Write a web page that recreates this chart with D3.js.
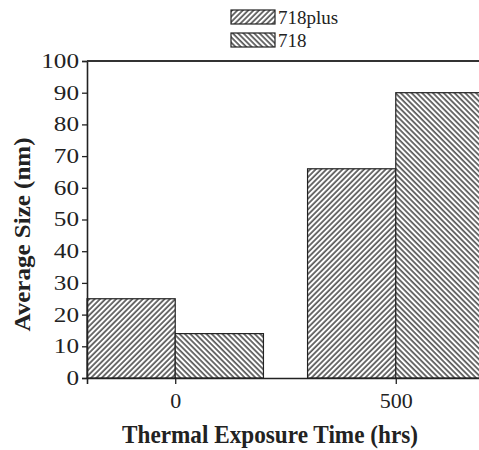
<!DOCTYPE html>
<html>
<head>
<meta charset="utf-8">
<script src="https://cdn.jsdelivr.net/npm/d3@7"></script>
<style>
  body { margin: 0; background: #fff; }
  svg text { font-family: "Liberation Serif", "Times New Roman", serif; fill: #222; }
</style>
</head>
<body>
<div id="chart"></div>
<script>
// data
var times = [0, 500];
var alloy718plus = [25, 66];
var alloy718 = [14, 90];
var seriesNames = ["718plus", "718"];
var yTicks = [0, 10, 20, 30, 40, 50, 60, 70, 80, 90, 100];

var width = 479;
var height = 450;

var margin = {
    top: 61,
    bottom: 72,
    left: 87,
    right: -5
};

var svg = d3.select("#chart")
    .append("svg")
    .attr("width", width)
    .attr("height", height);

var defs = svg.append("defs");

// hatch patterns, "/" for 718plus and "\" for 718
function hatch(id, angle) {
  var p = defs.append("pattern")
      .attr("id", id)
      .attr("patternUnits", "userSpaceOnUse")
      .attr("width", 3.8)
      .attr("height", 10)
      .attr("patternTransform", "rotate(" + angle + ")");
  p.append("rect").attr("width", 3.8).attr("height", 10).attr("fill", "#fff");
  p.append("line")
      .attr("x1", 1).attr("y1", 0)
      .attr("x2", 1).attr("y2", 10)
      .attr("stroke", "#222")
      .attr("stroke-width", 1.3);
}
hatch("hatchPlus", 45);
hatch("hatch718", -45);

var fills = ["url(#hatchPlus)", "url(#hatch718)"];

var x = d3.scaleLinear()
    .domain([-200, 700])
    .range([margin.left, width - margin.right]);

var y = d3.scaleLinear()
    .domain([0, 100])
    .range([height - margin.bottom, margin.top]);

var barW = 200;

// bars sit side by side around each time value
var bars = [];
times.forEach(function(t, i) {
  bars.push({x0: t - barW, x1: t, value: alloy718plus[i], s: 0});
  bars.push({x0: t, x1: t + barW, value: alloy718[i], s: 1});
});

svg.append("g")
    .selectAll("rect")
    .data(bars)
    .enter()
    .append("rect")
    .attr("x", function(d) { return x(d.x0); })
    .attr("y", function(d) { return y(d.value); })
    .attr("width", function(d) { return x(d.x1) - x(d.x0); })
    .attr("height", function(d) { return y(0) - y(d.value); })
    .attr("fill", function(d) { return fills[d.s]; })
    .attr("stroke", "#222")
    .attr("stroke-width", 1.2);

// y axis
var yAxis = svg.append("g")
    .attr("transform", "translate(" + margin.left + ",0)")
    .call(d3.axisLeft(y).tickValues(yTicks).tickSize(5).tickPadding(3));
yAxis.attr("font-family", "Liberation Serif");
yAxis.selectAll("text")
    .attr("font-size", "20px")
    .attr("fill", "#222")
    .attr("textLength", function(d) { return String(d).length * 12.6; })
    .attr("lengthAdjust", "spacingAndGlyphs");

// x axis
var xAxis = svg.append("g")
    .attr("transform", "translate(0," + y(0) + ")")
    .call(d3.axisBottom(x).tickValues(times).tickSize(6).tickPadding(8));
xAxis.attr("font-family", "Liberation Serif");
xAxis.selectAll("text").attr("font-size", "22px").attr("fill", "#222");

svg.selectAll(".domain").attr("stroke", "#222").attr("stroke-width", 1.6);
svg.selectAll(".tick line").attr("stroke", "#222").attr("stroke-width", 1.3);

// top frame line
svg.append("line")
    .attr("x1", margin.left)
    .attr("x2", width)
    .attr("y1", y(100))
    .attr("y2", y(100))
    .attr("stroke", "#333")
    .attr("stroke-width", 2);

// axis titles
svg.append("text")
    .attr("transform", "translate(30," + ((y(0) + y(100)) / 2 + 15) + ") rotate(-90) scale(1,1.2)")
    .attr("text-anchor", "middle")
    .attr("font-size", "20px")
    .attr("font-weight", "bold")
    .attr("textLength", 194)
    .attr("lengthAdjust", "spacingAndGlyphs")
    .text("Average Size (nm)");

svg.append("text")
    .attr("transform", "translate(270,443) scale(1,1.3)")
    .attr("text-anchor", "middle")
    .attr("font-size", "20px")
    .attr("font-weight", "bold")
    .attr("textLength", 296)
    .attr("lengthAdjust", "spacingAndGlyphs")
    .text("Thermal Exposure Time (hrs)");

// legend
var legend = svg.append("g")
    .selectAll("g")
    .data(seriesNames)
    .enter()
    .append("g")
    .attr("transform", function(d, i) { return "translate(231," + (10 + i * 23) + ")"; });

legend.append("rect")
    .attr("width", 44)
    .attr("height", 14)
    .attr("fill", function(d, i) { return fills[i]; })
    .attr("stroke", "#222")
    .attr("stroke-width", 1.2);

legend.append("text")
    .attr("x", 47)
    .attr("y", 14)
    .attr("font-size", "19px")
    .text(function(d) { return d; });
</script>
</body>
</html>
